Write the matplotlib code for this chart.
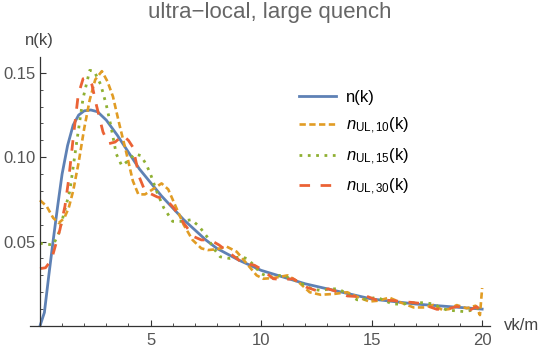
import numpy as np
import matplotlib.pyplot as plt
from matplotlib.ticker import MultipleLocator, FixedLocator

plt.rcParams['font.family'] = ['Liberation Sans', 'DejaVu Sans']
plt.rcParams['mathtext.fontset'] = 'custom'
plt.rcParams['mathtext.rm'] = 'Liberation Sans'
plt.rcParams['mathtext.it'] = 'Liberation Sans:italic'

# exact n(k)
k_exact = [0, 0.2, 0.4, 0.6, 0.8, 1.0, 1.25, 1.5, 1.75, 2.0, 2.3, 2.6, 3.0, 3.5, 4.0,
           4.5, 5.0, 5.5, 6.0, 6.5, 7.0, 7.5, 8.0, 9.0, 10, 11, 12, 13, 14, 15,
           16, 17, 18, 19, 20]
n_exact = [0, 0.008, 0.030, 0.051, 0.071, 0.090, 0.107, 0.119, 0.125, 0.1275, 0.128,
           0.127, 0.122, 0.113, 0.103, 0.093, 0.085, 0.077, 0.070, 0.063, 0.057,
           0.051, 0.046, 0.039, 0.033, 0.029, 0.025, 0.022, 0.019, 0.016, 0.0145,
           0.013, 0.012, 0.011, 0.010]

# ultra-local approximations
k_ul10 = [0, 0.3, 0.6, 0.85, 1.1, 1.3, 1.5, 1.75, 2.0, 2.25, 2.5, 2.8, 3.05, 3.3, 3.6,
          3.9, 4.2, 4.45, 4.75, 5.1, 5.5, 5.8, 6.1, 6.5, 6.9, 7.3, 7.6, 8.0, 8.45,
          8.9, 9.35, 9.8, 10.1, 10.6, 11.2, 11.7, 12.2, 12.7, 13.3, 13.9, 14.4,
          14.9, 15.3, 15.8, 16.3, 16.9, 17.4, 17.8, 18.2, 18.5, 18.85, 19.3, 19.7,
          19.9, 20]
n_ul10 = [0.0745, 0.071, 0.064, 0.061, 0.064, 0.070, 0.080, 0.097, 0.117, 0.134, 0.146,
          0.151, 0.145, 0.136, 0.119, 0.103, 0.086, 0.078, 0.078, 0.081, 0.0845,
          0.081, 0.072, 0.060, 0.051, 0.046, 0.045, 0.0455, 0.047, 0.044, 0.037,
          0.030, 0.028, 0.0285, 0.030, 0.026, 0.020, 0.0185, 0.019, 0.020, 0.017,
          0.0145, 0.015, 0.0168, 0.014, 0.011, 0.011, 0.0125, 0.0095, 0.010, 0.0124,
          0.0105, 0.012, 0.0065, 0.0225]

k_ul15 = [0, 0.3, 0.6, 0.85, 1.05, 1.35, 1.65, 1.95, 2.25, 2.45, 2.75, 3.0, 3.2, 3.45,
          3.7, 4.0, 4.3, 4.55, 4.8, 5.0, 5.3, 5.6, 6.0, 6.4, 6.85, 7.2, 7.55, 7.85,
          8.15, 8.6, 9.1, 9.35, 9.6, 10.0, 10.4, 10.9, 11.4, 11.85, 12.3, 12.7, 13.1,
          13.5, 13.9, 14.35, 14.8, 15.25, 15.6, 15.95, 16.4, 16.9, 17.4, 17.8, 18.1,
          18.4, 18.8, 19.2, 19.6, 20]
n_ul15 = [0.049, 0.0485, 0.048, 0.055, 0.065, 0.080, 0.108, 0.135, 0.1515, 0.151, 0.143,
          0.131, 0.119, 0.102, 0.095, 0.098, 0.102, 0.101, 0.096, 0.090, 0.079, 0.070,
          0.062, 0.062, 0.063, 0.059, 0.053, 0.046, 0.041, 0.040, 0.041, 0.040, 0.037,
          0.031, 0.029, 0.030, 0.028, 0.025, 0.022, 0.021, 0.022, 0.022, 0.019, 0.0155,
          0.016, 0.017, 0.015, 0.013, 0.013, 0.0138, 0.0138, 0.013, 0.011, 0.0095,
          0.009, 0.0085, 0.0095, 0.0115]

k_ul30 = [0, 0.25, 0.45, 0.6, 0.9, 1.13, 1.3, 1.5, 1.73, 1.95, 2.15, 2.35, 2.55, 2.85,
          3.1, 3.4, 3.75, 4.0, 4.2, 4.5, 4.75, 5.3, 5.7, 6.05, 6.5, 6.95, 7.3, 7.7,
          8.1, 8.6, 9.2, 9.7, 10.1, 10.55, 11.0, 11.45, 12.05, 12.5, 13.05, 13.5,
          13.9, 14.3, 14.7, 15.2, 15.5, 16.0, 16.4, 16.8, 17.2, 17.6, 17.95, 18.4,
          18.85, 19.2, 19.45, 19.75, 20]
n_ul30 = [0.034, 0.0345, 0.038, 0.043, 0.057, 0.071, 0.087, 0.111, 0.137, 0.1465, 0.147,
          0.143, 0.131, 0.115, 0.108, 0.109, 0.113, 0.110, 0.106, 0.088, 0.080, 0.0765,
          0.075, 0.070, 0.061, 0.053, 0.051, 0.051, 0.048, 0.043, 0.037, 0.036, 0.033,
          0.028, 0.0275, 0.028, 0.023, 0.021, 0.022, 0.020, 0.0178, 0.0175, 0.018,
          0.0155, 0.0154, 0.015, 0.0144, 0.014, 0.0134, 0.0115, 0.0099, 0.010, 0.0115,
          0.011, 0.0095, 0.0115, 0.008]

fig = plt.figure(figsize=(5.4, 3.53), dpi=100)
ax = fig.add_axes([0.0556, 0.0765, 0.852, 0.762])

ax.plot(k_exact, n_exact, color='#5E81B5', lw=2.0, label='n(k)')
ax.plot(k_ul10, n_ul10, color='#E19C24', lw=1.9, dashes=(2.4, 1.3),
        label=r'$n_{\mathrm{UL,10}}$(k)')
ax.plot(k_ul15, n_ul15, color='#8FB032', lw=2.0, dashes=(1, 2.0),
        label=r'$n_{\mathrm{UL,15}}$(k)')
ax.plot(k_ul30, n_ul30, color='#EB6235', lw=2.0, dashes=(3.8, 3.8),
        label=r'$n_{\mathrm{UL,30}}$(k)')

ax.set_xlim(-0.45, 20.36)
ax.set_ylim(0, 0.1594)
ax.spines['left'].set_position(('data', 0))
ax.spines['top'].set_visible(False)
ax.spines['right'].set_visible(False)
for s in ['left', 'bottom']:
    ax.spines[s].set_color('#333333')
    ax.spines[s].set_linewidth(0.9)

ax.xaxis.set_major_locator(FixedLocator([5, 10, 15, 20]))
ax.xaxis.set_minor_locator(MultipleLocator(1))
ax.yaxis.set_major_locator(FixedLocator([0.05, 0.10, 0.15]))
ax.yaxis.set_minor_locator(MultipleLocator(0.01))
ax.set_yticklabels(['0.05', '0.10', '0.15'])
ax.tick_params(which='both', direction='in', color='#333333', labelcolor='#555555',
               labelsize=12)
ax.tick_params(which='major', length=4, width=0.8)
ax.tick_params(which='minor', length=2.5, width=0.6)
ax.tick_params(axis='x', pad=5)
ax.tick_params(axis='y', pad=3)

fig.text(0.5, 0.965, 'ultra\u2212local, large quench', ha='center', va='center',
         fontsize=16, color='#666666')
fig.text(0.072, 0.885, 'n(k)', ha='center', va='center', fontsize=12, color='#444444')
fig.text(0.999, 0.078, 'vk/m', ha='right', va='center', fontsize=12, color='#444444')

ax.legend(loc='upper left', bbox_to_anchor=(0.553, 0.932), frameon=False, fontsize=12,
          handlelength=2.2, labelspacing=0.62, handletextpad=0.6)

fig.savefig('out.png', dpi=100)
